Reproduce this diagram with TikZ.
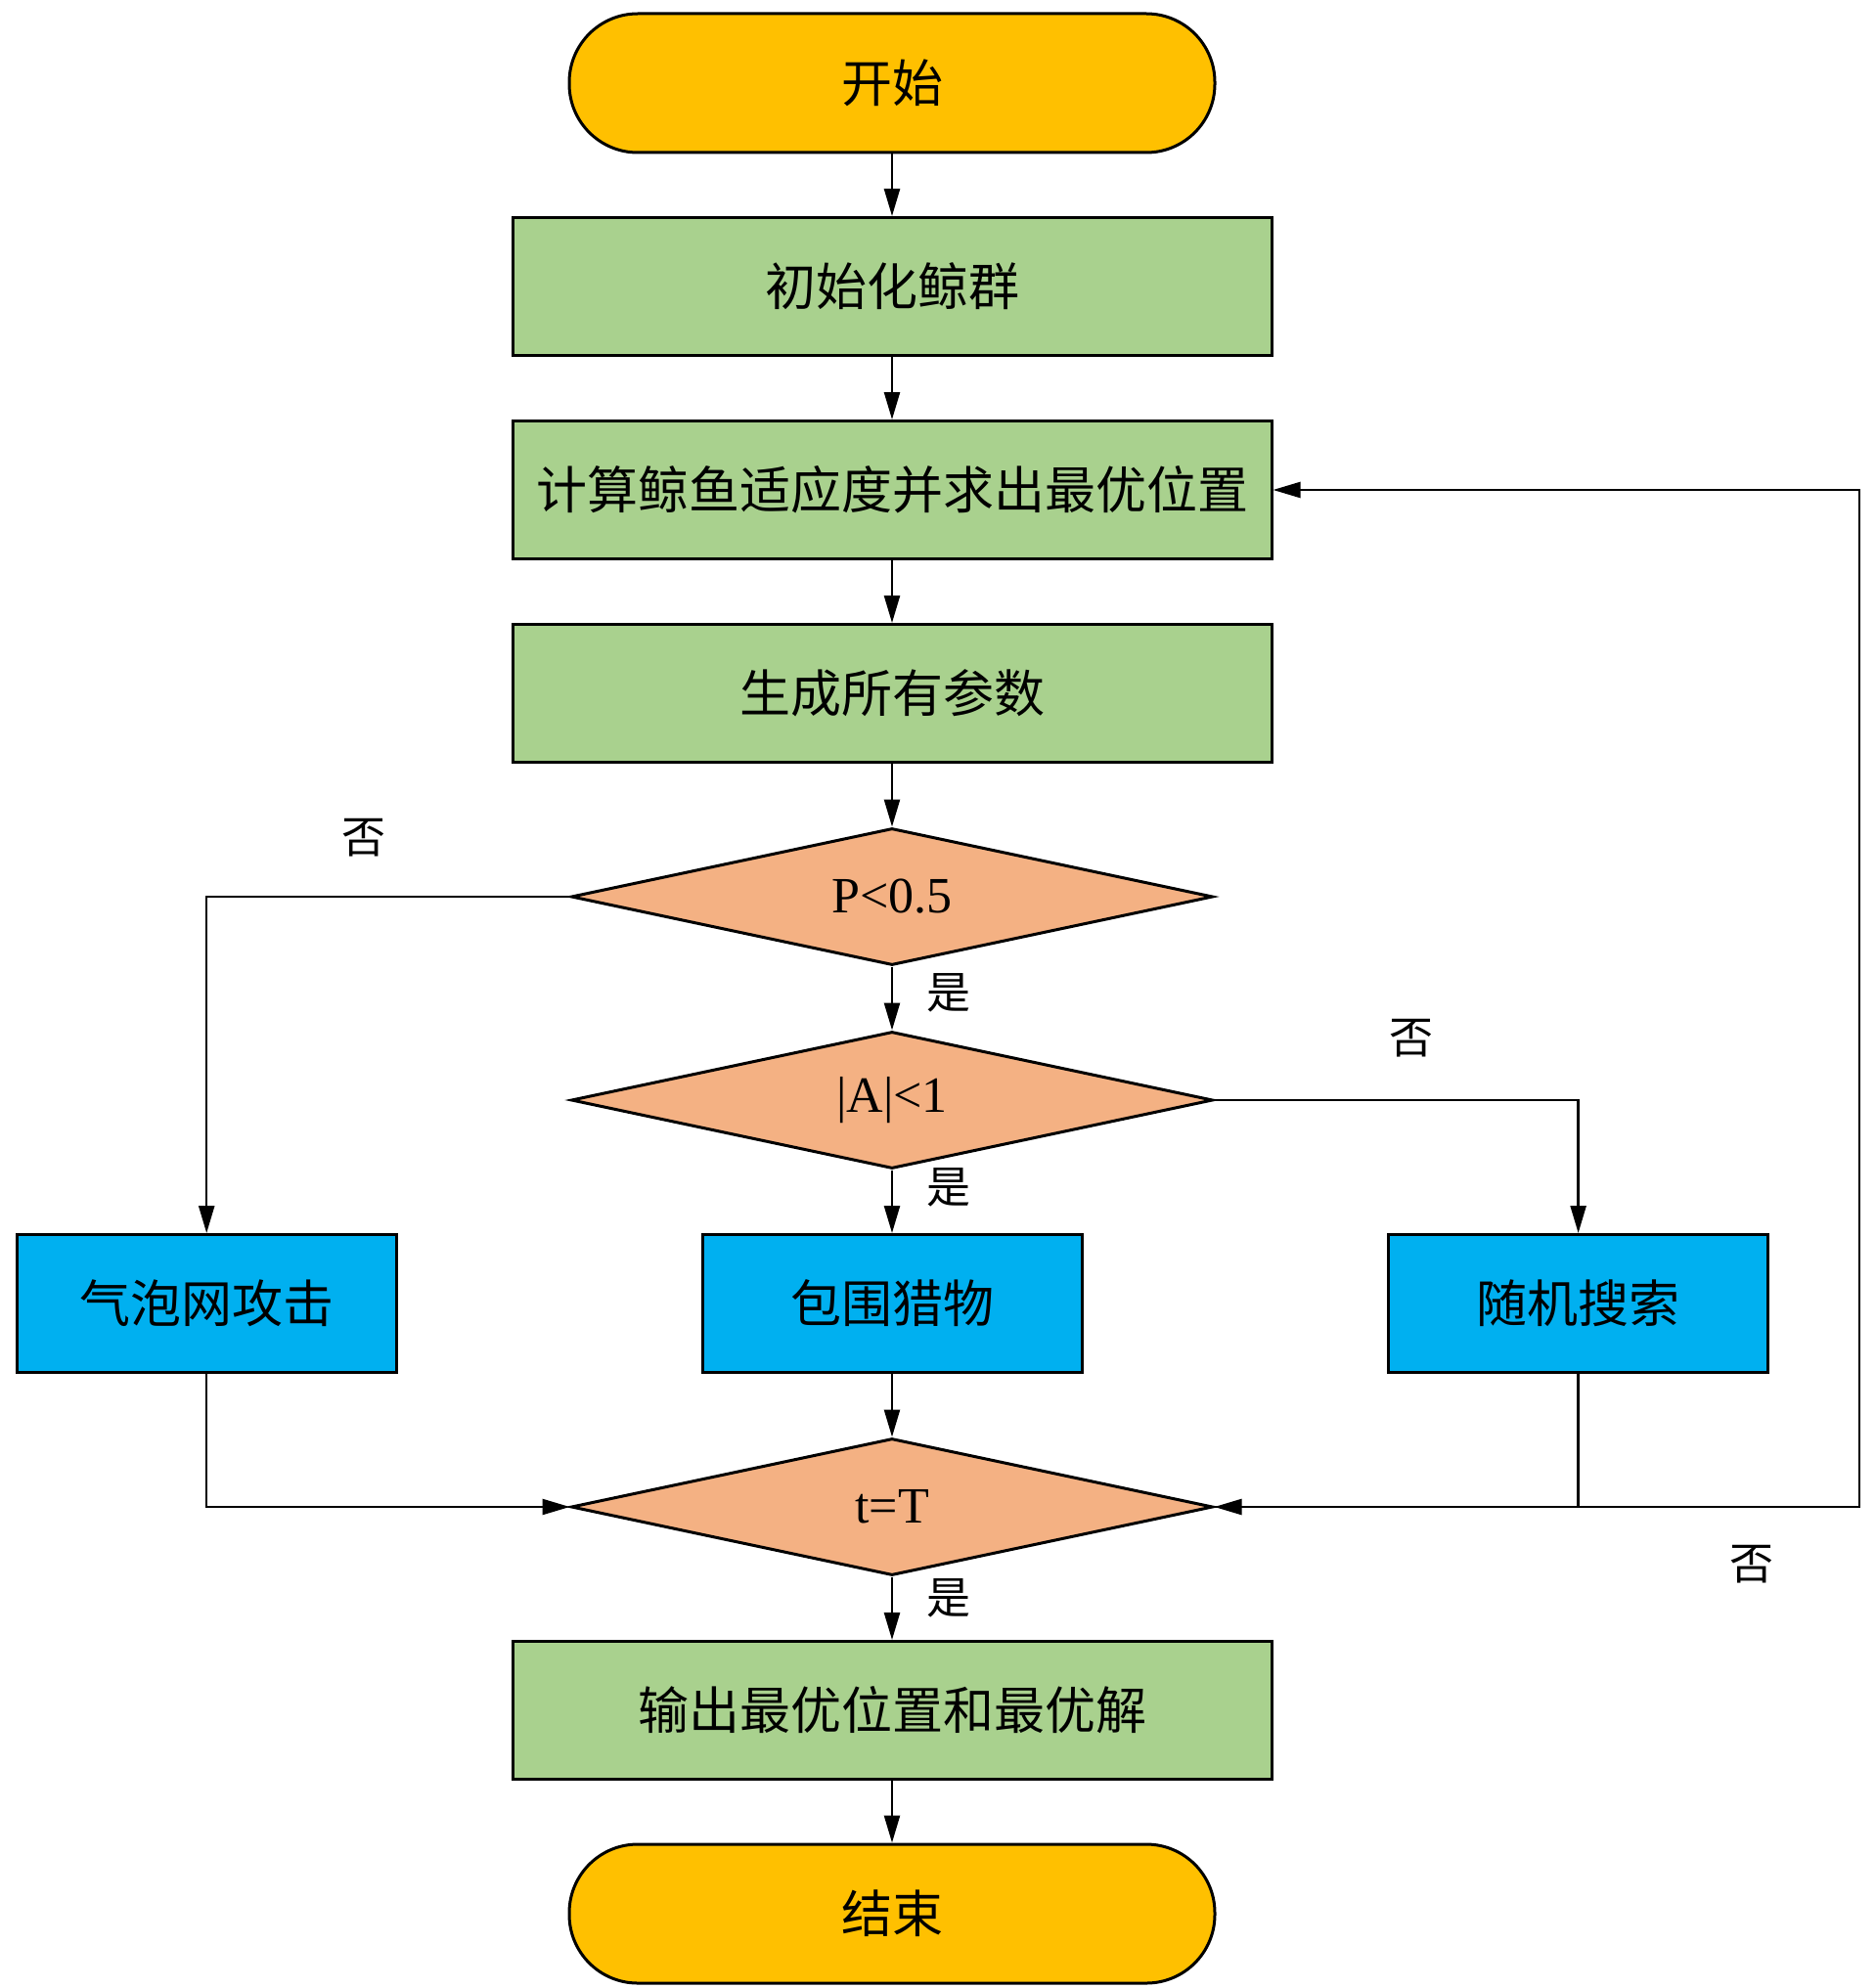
\documentclass[tikz,border=0pt]{standalone}
\usepackage{fontspec}
\setmainfont{Liberation Serif}
\newfontfamily\cjk{Noto Sans CJK SC}
\usetikzlibrary{arrows.meta,shapes.geometric,calc}
\definecolor{termc}{HTML}{FFC000}
\definecolor{procc}{HTML}{A9D18E}
\definecolor{decc}{HTML}{F4B183}
\definecolor{actc}{HTML}{00B0F0}
\tikzset{
  base/.style={draw=black, line width=1.5pt, inner sep=0pt, font=\fontsize{26}{30}\selectfont},
  term/.style={base, fill=termc, minimum width=330pt, minimum height=71pt, rounded corners=35pt},
  proc/.style={base, fill=procc, minimum width=388pt, minimum height=70.5pt},
  act/.style={base, fill=actc, minimum width=194pt, minimum height=70.5pt},
  dec/.style={base, fill=decc, diamond, aspect=4.69, minimum width=328pt, minimum height=70pt},
  arr/.style={-{Triangle[length=14pt,width=8pt]}, line width=1.2pt},
  lbl/.style={font=\cjk\fontsize{22.5}{26}\selectfont, inner sep=0pt}
}
\begin{document}
\begin{tikzpicture}[x=1pt,y=-1pt]
\useasboundingbox (0,0) rectangle (958.5,1016.5);
\node[term] (start) at (456,42.5) {\cjk 开始};
\node[proc] (b1) at (456,146.5) {\cjk 初始化鲸群};
\node[proc] (b2) at (456,250.5) {\cjk 计算鲸鱼适应度并求出最优位置};
\node[proc] (b3) at (456,354.5) {\cjk 生成所有参数};
\node[dec] (d1) at (456,458.5) {P<0.5};
\node[dec] (d2) at (456,562.5) {|A|<1};
\node[act] (lb) at (105.6,666.5) {\cjk 气泡网攻击};
\node[act] (mb) at (456,666.5) {\cjk 包围猎物};
\node[act] (rb) at (806.8,666.5) {\cjk 随机搜索};
\node[dec] (d3) at (456,770.5) {t=T};
\node[proc] (out) at (456,874.5) {\cjk 输出最优位置和最优解};
\node[term] (end) at (456,978.5) {\cjk 结束};
\coordinate (loop) at (950.6,770.5);

\draw[arr] (start) -- (b1);
\draw[arr] (b1) -- (b2);
\draw[arr] (b2) -- (b3);
\draw[arr] (b3) -- (d1.north);
\draw[arr] (d1.south) -- (d2.north);
\draw[arr] (d2.south) -- (mb);
\draw[arr] (mb) -- (d3.north);
\draw[arr] (d3.south) -- (out);
\draw[arr] (out) -- (end);
\draw[arr] (d1.west) -| (lb.north);
\draw[arr] (d2.east) -| (rb.north);
\draw[arr] (lb.south) |- (d3.west);
\draw[arr] (rb.south) |- (d3.east);
\draw[arr] (d3.east) -- (loop) |- (b2.east);

\node[lbl] (n1) at (186,428.5) {否};
\node[lbl] (y1) at (485,507.5) {是};
\node[lbl] (n2) at (721.5,531) {否};
\node[lbl] (y2) at (485,607) {是};
\node[lbl] (y3) at (485,817) {是};
\node[lbl] (n3) at (895.5,800) {否};
\end{tikzpicture}
\end{document}
